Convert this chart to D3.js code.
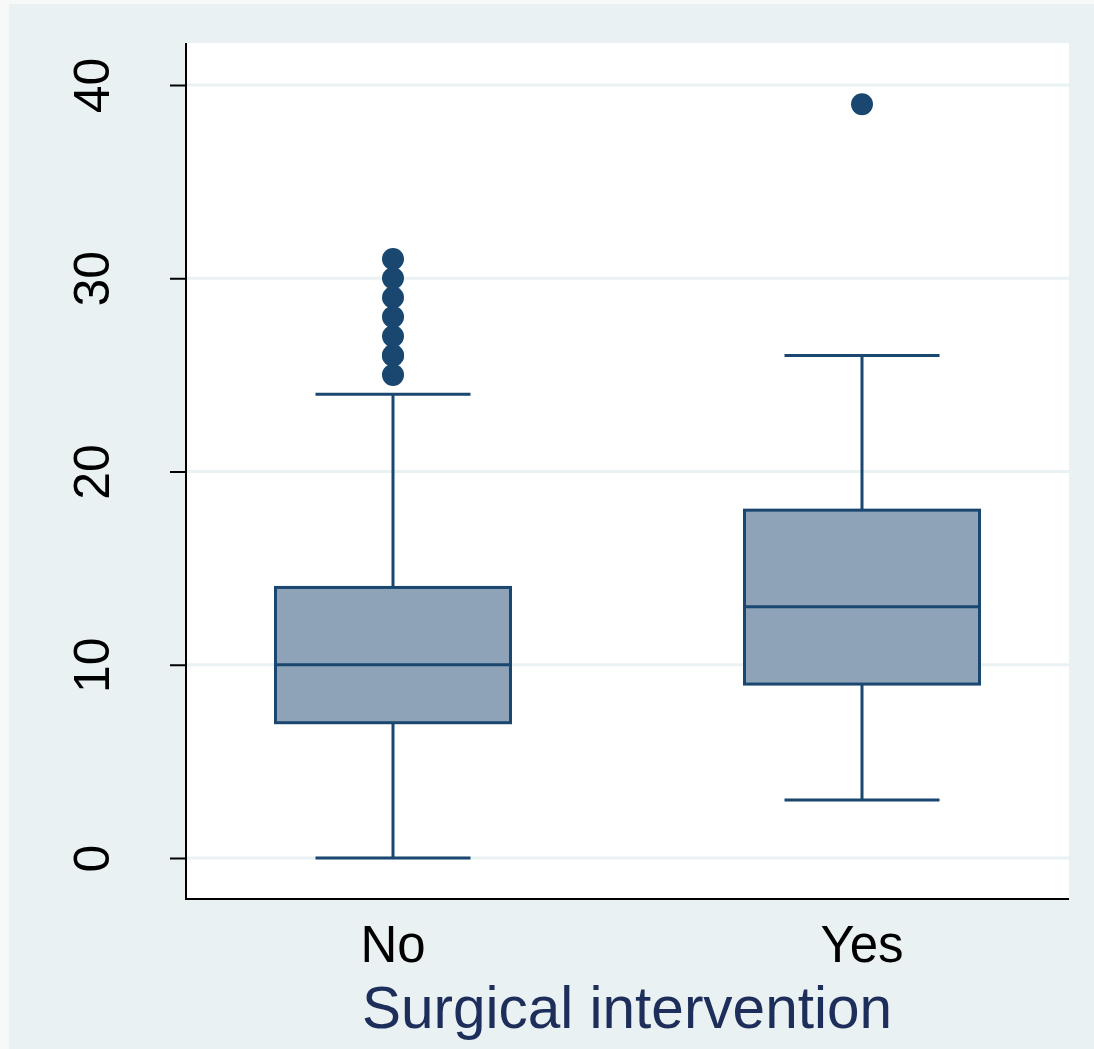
<!DOCTYPE html>
<html>
<head>
<meta charset="utf-8">
<script src="https://cdn.jsdelivr.net/npm/d3@7"></script>
<style>
  html, body { margin: 0; padding: 0; background: #f7f8f8; }
  svg { display: block; font-family: "Liberation Sans", Arial, sans-serif; }
</style>
</head>
<body>
<svg id="chart" width="1094" height="1049"></svg>
<script>
// Groups on the x axis
const categories = ["No", "Yes"];
// Five-number summaries per group
const lowerWhisker = [0, 3];
const q1Values     = [7, 9];
const medians      = [10, 13];
const q3Values     = [14, 18];
const upperWhisker = [24, 26];
// Points outside the whiskers
const outliersNo  = [25, 26, 26, 27, 28, 29, 30, 31];
const outliersYes = [39];
const yTicks = [0, 10, 20, 30, 40];
const xTitle = "Surgical intervention";

const svg = d3.select("#chart");
const W = 1094, H = 1049;
const plot = { left: 186, right: 1069, top: 43, bottom: 899 };

const navy = "#1a476f";
const boxFill = "#8ea3b7";
const bg = "#eaf1f3";

// page background
svg.append("rect").attr("x", 9).attr("y", 4).attr("width", W - 9).attr("height", H - 4).attr("fill", bg);
// plot region
svg.append("rect").attr("x", plot.left).attr("y", plot.top)
  .attr("width", plot.right - plot.left).attr("height", plot.bottom - plot.top).attr("fill", "#ffffff");

const y = d3.scaleLinear().domain([0, 40]).range([858, 85]);
const x = d3.scalePoint().domain(categories).range([393, 862]);

// horizontal gridlines
svg.append("g").selectAll("line").data(yTicks).join("line")
  .attr("x1", plot.left).attr("x2", plot.right)
  .attr("y1", d => y(d)).attr("y2", d => y(d))
  .attr("stroke", bg).attr("stroke-width", 3);

// y axis
const yAxis = d3.axisLeft(y).tickValues(yTicks).tickSize(16).tickPadding(0).tickFormat(d3.format("d"));
const gy = svg.append("g").attr("transform", `translate(${plot.left},0)`).call(yAxis);
gy.select(".domain").attr("d", `M0,${plot.top}V${plot.bottom}`).attr("stroke", "#000").attr("stroke-width", 2);
gy.selectAll(".tick line").attr("stroke", "#000").attr("stroke-width", 2);
gy.selectAll(".tick text")
  .attr("x", null).attr("dy", null)
  .attr("transform", "translate(-77,0) rotate(-90)")
  .attr("text-anchor", "middle")
  .attr("font-size", 50)
  .attr("fill", "#000");

// x axis line
svg.append("line").attr("x1", plot.left - 1).attr("x2", plot.right)
  .attr("y1", plot.bottom).attr("y2", plot.bottom).attr("stroke", "#000").attr("stroke-width", 2);

// category labels
svg.append("g").selectAll("text").data(categories).join("text")
  .attr("x", d => x(d)).attr("y", 962)
  .attr("text-anchor", "middle").attr("font-size", 51).attr("fill", "#000")
  .text(d => d);

// axis title
svg.append("text").attr("x", 627).attr("y", 1028)
  .attr("text-anchor", "middle").attr("font-size", 58.5).attr("fill", "#1e2e5a")
  .text(xTitle);

const boxW = 235, capW = 155;
const groups = categories.map((c, i) => ({
  c, lo: lowerWhisker[i], q1: q1Values[i], med: medians[i], q3: q3Values[i], hi: upperWhisker[i],
  out: i === 0 ? outliersNo : outliersYes
}));

const g = svg.append("g");
groups.forEach(d => {
  const cx = x(d.c);
  // whiskers
  g.append("line").attr("x1", cx).attr("x2", cx).attr("y1", y(d.q3)).attr("y2", y(d.hi))
    .attr("stroke", navy).attr("stroke-width", 3);
  g.append("line").attr("x1", cx).attr("x2", cx).attr("y1", y(d.q1)).attr("y2", y(d.lo))
    .attr("stroke", navy).attr("stroke-width", 3);
  // caps
  [d.lo, d.hi].forEach(v => {
    g.append("line").attr("x1", cx - capW / 2).attr("x2", cx + capW / 2).attr("y1", y(v)).attr("y2", y(v))
      .attr("stroke", navy).attr("stroke-width", 3);
  });
  // box
  g.append("rect").attr("x", cx - boxW / 2).attr("width", boxW)
    .attr("y", y(d.q3)).attr("height", y(d.q1) - y(d.q3))
    .attr("fill", boxFill).attr("stroke", navy).attr("stroke-width", 3);
  // median
  g.append("line").attr("x1", cx - boxW / 2).attr("x2", cx + boxW / 2).attr("y1", y(d.med)).attr("y2", y(d.med))
    .attr("stroke", navy).attr("stroke-width", 3);
  // outliers
  g.append("g").selectAll("circle").data(d.out).join("circle")
    .attr("cx", cx).attr("cy", v => y(v)).attr("r", 11).attr("fill", navy);
});
</script>
</body>
</html>
